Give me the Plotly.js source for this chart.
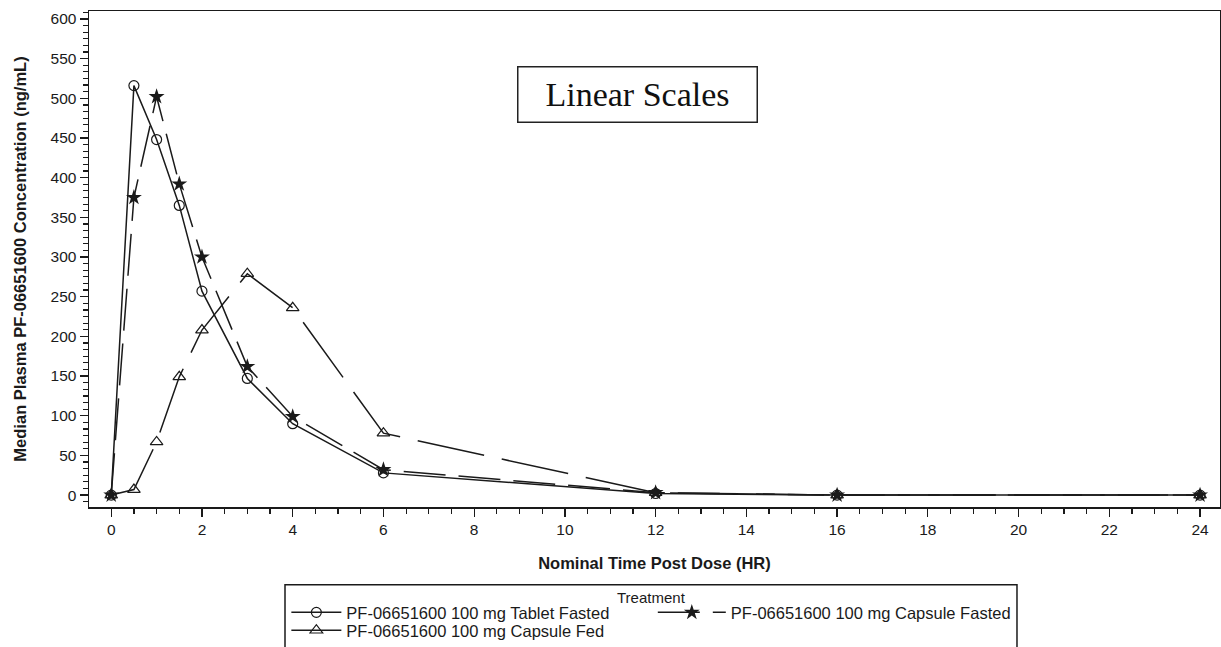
<!DOCTYPE html>
<html>
<head>
<meta charset="utf-8">
<script src="https://cdn.plot.ly/plotly-3.0.1.min.js"></script>
<style>
  html, body { margin: 0; padding: 0; background: #fff; }
  #chart { width: 1221px; height: 647px; }
</style>
</head>
<body>
<div id="chart"></div>
<script>
// Nominal time points (HR)
const timeHr = [0, 0.5, 1, 1.5, 2, 3, 4, 6, 12, 16, 24];

// Median plasma concentration (ng/mL)
const tabletFasted  = [0, 516, 448, 365, 257, 147, 90, 28, 2, 0, 0];
const capsuleFasted = [0, 375, 502, 392, 300, 162, 99, 32, 3, 0, 0];
const capsuleFed    = [0, 7, 67, 149, 208, 279, 236, 78, 3, 0, 0];

const seriesNames = [
  "PF-06651600 100 mg Tablet Fasted",
  "PF-06651600 100 mg Capsule Fasted",
  "PF-06651600 100 mg Capsule Fed"
];

const yTickVals = [0, 50, 100, 150, 200, 250, 300, 350, 400, 450, 500, 550, 600];
const xTickVals = [0, 2, 4, 6, 8, 10, 12, 14, 16, 18, 20, 22, 24];

const ink = "#1a1a1a";

const traces = [
  {
    x: timeHr, y: tabletFasted, name: seriesNames[0],
    type: "scatter", mode: "lines+markers",
    line: { color: ink, width: 1.5, dash: "solid" },
    marker: { symbol: "circle-open", size: 10, color: ink, line: { width: 1.2, color: ink } },
    legend: "legend"
  },
  {
    x: timeHr, y: capsuleFasted, name: seriesNames[1],
    type: "scatter", mode: "lines+markers",
    line: { color: ink, width: 1.5, dash: "42px,13px" },
    marker: { symbol: "star", size: 12, color: ink, line: { width: 0 } },
    legend: "legend2"
  },
  {
    x: timeHr, y: capsuleFed, name: seriesNames[2],
    type: "scatter", mode: "lines+markers",
    line: { color: ink, width: 1.5, dash: "68px,18px" },
    marker: { symbol: "triangle-up-open", size: 11, color: ink, line: { width: 1.2, color: ink } },
    legend: "legend3"
  }
];

function legendBox(x, y, itemwidth) {
  return {
    x: x, xanchor: "left", y: y, yanchor: "middle",
    orientation: "v", bgcolor: "rgba(0,0,0,0)", borderwidth: 0,
    font: { size: 16.5, color: ink }, itemwidth: itemwidth, tracegroupgap: 0,
    itemclick: false, itemdoubleclick: false
  };
}

const layout = {
  width: 1221, height: 647,
  margin: { l: 89, r: 1, t: 11, b: 140, autoexpand: false },
  paper_bgcolor: "#fff", plot_bgcolor: "#fff",
  font: { family: "Liberation Sans, Arial, sans-serif", color: ink },
  showlegend: true,
  xaxis: {
    range: [-0.49, 24.44],
    tickvals: xTickVals,
    ticktext: xTickVals.map(String),
    ticks: "outside", ticklen: 8, tickwidth: 1.3, tickcolor: ink,
    minor: { dtick: 0.5, tick0: 0, ticks: "outside", ticklen: 5, tickwidth: 1.2, tickcolor: ink, showgrid: false },
    showline: true, linecolor: ink, linewidth: 1.5, mirror: true,
    showgrid: false, zeroline: false,
    tickfont: { size: 15.5, color: ink },
    title: { text: "<b>Nominal Time Post Dose (HR)</b>", font: { size: 16.5, color: ink }, standoff: 20 },
    automargin: false
  },
  yaxis: {
    range: [-15, 610],
    tickvals: yTickVals,
    ticktext: yTickVals.map(String),
    ticks: "outside", ticklen: 8, tickwidth: 1.3, tickcolor: ink,
    minor: { dtick: 50 / 6, tick0: 0, ticks: "outside", ticklen: 5, tickwidth: 1.2, tickcolor: ink, showgrid: false },
    showline: true, linecolor: ink, linewidth: 1.5, mirror: true,
    showgrid: false, zeroline: false,
    tickfont: { size: 15.5, color: ink },
    title: { text: "<b>Median Plasma PF-06651600 Concentration (ng/mL)</b>", font: { size: 16.5, color: ink }, standoff: 20 },
    automargin: false
  },
  legend: legendBox(0.1745, -0.2130, 50),
  legend2: legendBox(0.4985, -0.2130, 68),
  legend3: legendBox(0.1745, -0.2490, 50),
  shapes: [
    {
      type: "rect", xref: "paper", yref: "paper",
      x0: 0.1733, x1: 0.8205, y0: -0.35, y1: -0.157,
      line: { color: ink, width: 1.5 }, fillcolor: "rgba(0,0,0,0)"
    }
  ],
  annotations: [
    {
      text: "Linear Scales", xref: "paper", yref: "paper",
      x: 0.485, y: 0.8317, xanchor: "center", yanchor: "middle",
      showarrow: false, width: 238, height: 54, align: "center",
      font: { family: "Liberation Serif, Times New Roman, serif", size: 34, color: "#111" },
      bordercolor: "#222", borderwidth: 1.5, borderpad: 0, bgcolor: "#fff"
    },
    {
      text: "Treatment", xref: "paper", yref: "paper",
      x: 0.497, y: -0.1815, xanchor: "center", yanchor: "middle",
      showarrow: false, font: { size: 15, color: ink }
    }
  ]
};

Plotly.newPlot("chart", traces, layout, { displayModeBar: false, staticPlot: true });
</script>
</body>
</html>
